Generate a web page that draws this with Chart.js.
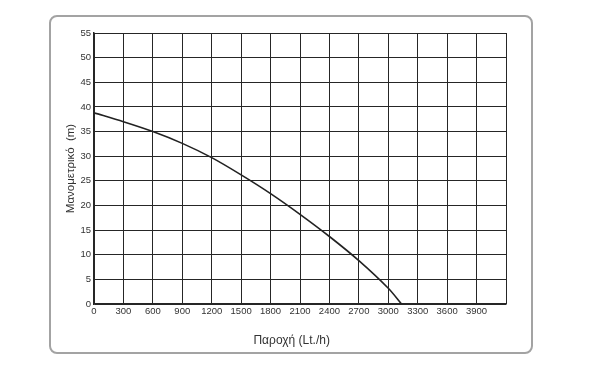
<!DOCTYPE html>
<html>
<head>
<meta charset="utf-8">
<script src="https://cdn.jsdelivr.net/npm/chart.js@4/dist/chart.umd.min.js"></script>
<style>
  html, body { margin: 0; padding: 0; background: #fff; }
  #wrap { position: relative; width: 590px; height: 372px; }
  #frame {
    position: absolute; left: 49px; top: 15px; width: 480px; height: 335px;
    border: 2px solid #a3a3a3; border-radius: 8px;
  }
  canvas { position: absolute; left: 0; top: 0; }
</style>
</head>
<body>
<div id="wrap">
  <div id="frame"></div>
  <canvas id="chart" width="590" height="372"></canvas>
</div>
<script>
// flow (Lt/h) vs head (m)
const flow = [0, 300, 600, 900, 1200, 1500, 1800, 2100, 2400, 2700, 3000, 3135];
const head = [38.8, 37.0, 35.0, 32.6, 29.7, 26.2, 22.4, 18.2, 13.7, 8.8, 3.2, 0];
const xTicks = [0, 300, 600, 900, 1200, 1500, 1800, 2100, 2400, 2700, 3000, 3300, 3600, 3900];
const yTicks = [0, 5, 10, 15, 20, 25, 30, 35, 40, 45, 50, 55];

const gridColor = '#262626';
const family = '"Liberation Sans", Arial, sans-serif';
const font = { family, size: 9.5 };

const ctx = document.getElementById('chart').getContext('2d');
const chart = new Chart(ctx, {
  type: 'scatter',
  data: {
    datasets: [{
      data: flow.map((x, i) => ({ x, y: head[i] })),
      showLine: true,
      borderColor: '#222',
      borderWidth: 1.6,
      pointRadius: 0,
      tension: 0.3,
      fill: false,
    }],
  },
  options: {
    responsive: false,
    animation: false,
    layout: { padding: { left: 64, right: 84, top: 33, bottom: 20 } },
    plugins: { legend: { display: false }, tooltip: { enabled: false } },
    scales: {
      x: {
        type: 'linear',
        min: 0,
        max: 4200,
        afterBuildTicks(scale) {
          scale.ticks = xTicks.concat([4200]).map(v => ({ value: v }));
        },
        afterFit(scale) { scale.height = 48; },
        ticks: {
          color: '#333',
          font,
          padding: 2,
          maxRotation: 0,
          autoSkip: false,
          callback: v => (xTicks.includes(v) ? String(v) : ''),
        },
        grid: { color: gridColor, lineWidth: 1, drawTicks: false },
        border: { color: gridColor, width: 1.5 },
        title: {
          display: true,
          // trailing spaces nudge the centred title left like the original
          text: 'Παροχή (Lt./h)     ',
          color: '#333',
          font: { family, size: 12 },
          padding: { top: 13 },
        },
      },
      y: {
        type: 'linear',
        min: 0,
        max: 55,
        afterBuildTicks(scale) {
          scale.ticks = yTicks.map(v => ({ value: v }));
        },
        afterFit(scale) { scale.width = 30; },
        ticks: { color: '#333', font, padding: 3 },
        grid: { color: gridColor, lineWidth: 1, drawTicks: false },
        border: { color: gridColor, width: 1.5 },
        title: {
          display: true,
          text: 'Μανομετρικό  (m)',
          color: '#333',
          font: { family, size: 11.5 },
          padding: { top: 0, bottom: 4 },
        },
      },
    },
  },
});
</script>
</body>
</html>
